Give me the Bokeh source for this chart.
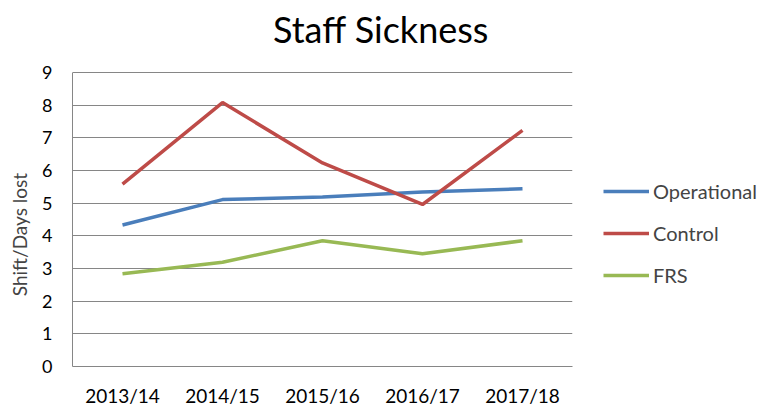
from bokeh.plotting import figure
from bokeh.models import Legend, LegendItem, FixedTicker, Label
from bokeh.embed import file_html
from bokeh.resources import INLINE

years = ["2013/14", "2014/15", "2015/16", "2016/17", "2017/18"]
operational = [4.33, 5.11, 5.19, 5.34, 5.44]
control = [5.58, 8.08, 6.23, 4.96, 7.23]
frs = [2.84, 3.19, 3.85, 3.45, 3.85]
y_ticks = [0, 1, 2, 3, 4, 5, 6, 7, 8, 9]
title_text = "Staff Sickness"
y_label = "Shift/Days lost"

FONT = "Lato"
GRID = "#868686"

# plot area: value 0..9 spans 294px; extra headroom above holds the title
AXIS_MAX = 9
PX_PER_UNIT = 294 / AXIS_MAX
TOP_ROOM = 72
y_end = AXIS_MAX + TOP_ROOM / PX_PER_UNIT

p = figure(x_range=years, y_range=(0, y_end), width=760, height=392,
           frame_width=500, frame_height=294 + TOP_ROOM,
           output_backend="svg", toolbar_location=None,
           min_border_left=72, min_border_right=188, min_border_top=0, min_border_bottom=26)
p.x_range.range_padding = 0
p.outline_line_color = None

# chart title, centred on the whole chart, above the plot area
p.add_layout(Label(x=3.085, y=AXIS_MAX + 44 / PX_PER_UNIT, text=title_text, text_font=FONT,
                   text_font_size="36px", text_align="center",
                   text_baseline="middle", text_color="#000000"))

r1 = p.line(years, operational, line_color="#4A7EBB", line_width=3.5)
r2 = p.line(years, control, line_color="#BE4B48", line_width=3.5)
r3 = p.line(years, frs, line_color="#98B954", line_width=3.5)

p.yaxis.ticker = FixedTicker(ticks=y_ticks)
p.yaxis.bounds = (0, AXIS_MAX)
# trailing no-break spaces keep the visible label centred on the 0..9 span
p.yaxis.axis_label = y_label + "\u00a0" * 21
p.yaxis.axis_label_text_font = FONT
p.yaxis.axis_label_text_font_size = "19px"
p.yaxis.axis_label_text_font_style = "normal"
p.yaxis.axis_label_standoff = 8
p.yaxis.major_label_text_font = FONT
p.yaxis.major_label_text_font_size = "18px"
p.yaxis.major_label_standoff = 14

p.xaxis.major_label_text_font = FONT
p.xaxis.major_label_text_font_size = "19px"
p.xaxis.major_label_standoff = 11

for ax in (p.xaxis[0], p.yaxis[0]):
    ax.axis_line_color = GRID
    ax.major_tick_line_color = None
    ax.minor_tick_line_color = None
    ax.major_label_text_color = "#000000"

p.xgrid.grid_line_color = None
p.ygrid.grid_line_color = GRID

legend = Legend(items=[LegendItem(label="Operational", renderers=[r1]),
                       LegendItem(label="Control", renderers=[r2]),
                       LegendItem(label="FRS", renderers=[r3])],
                location=(31, 79), orientation="vertical",
                label_text_font=FONT, label_text_font_size="20px",
                glyph_width=46, glyph_height=20, label_standoff=4,
                spacing=18, padding=0, margin=0,
                border_line_color=None, background_fill_alpha=0)
p.add_layout(legend, "right")

open("out.html", "w").write(file_html(p, INLINE))
